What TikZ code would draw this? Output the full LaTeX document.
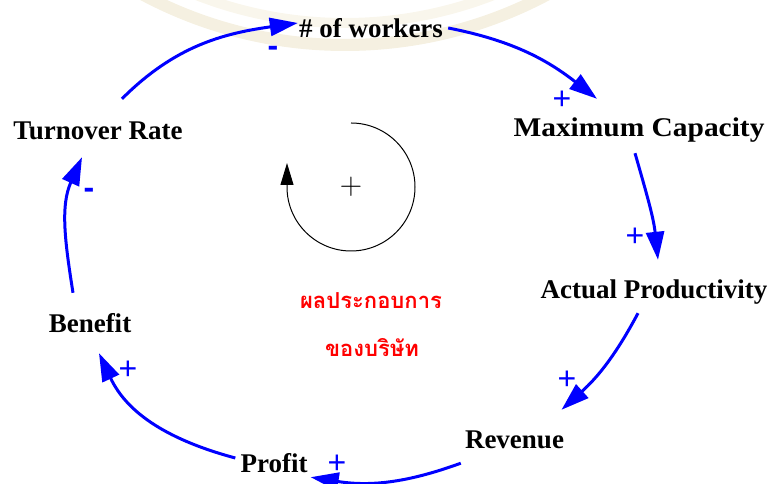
\documentclass[tikz,border=0pt]{standalone}
\usepackage{fontspec}
\setmainfont{Liberation Serif}
\newfontfamily\signfont{Liberation Sans}
\newfontfamily\loopfont{Latin Modern Roman}
\newfontfamily\thaifont[Script=Thai]{Loma}
\usetikzlibrary{arrows.meta, positioning, calc}
\definecolor{logoA}{RGB}{245,240,225}
\definecolor{logoB}{RGB}{249,246,236}

\begin{document}
\begin{tikzpicture}[x=1pt, y=1pt,
    var/.style={font=\fontsize{27}{30}\selectfont\bfseries, inner sep=0pt,
      text height=18pt, text depth=6pt, anchor=base},
    link/.style={draw=blue, line width=3pt, -{Triangle[length=28pt, width=18pt]}},
    sign/.style={text=blue, font=\signfont\fontsize{32}{32}\selectfont, inner sep=0pt, anchor=base},
    perf/.style={text=red, font=\thaifont\bfseries\fontsize{22}{26}\selectfont, inner sep=0pt, anchor=base},
    loopline/.style={draw=black, line width=1pt, -{Triangle[length=22pt, width=13pt]}}]

    \useasboundingbox (0,0) rectangle (769,484);

    % faded logo at the top
    \begin{scope}
      \clip (0,0) rectangle (769,484);
      \draw[line width=12pt, logoA] (345,869) circle[radius=430];
      \draw[line width=10pt, logoB] (345,869) circle[radius=408];
    \end{scope}

    \node[var] (turn) at (98,344) {Turnover Rate};
    \node[var] (workers) at (371,446) {\# of workers};
    \node[var, xscale=1.09, transform shape] (maxcap) at (639,347) {Maximum Capacity};
    \node[var] (actual) at (654,185) {Actual Productivity};
    \node[var] (revenue) at (514.5,35) {Revenue};
    \node[var] (profit) at (274,11) {Profit};
    \node[var] (benefit) at (90,151) {Benefit};

    \draw[link] ([xshift=24pt, yshift=23pt]turn.north) to[out=45, in=188] ([xshift=-1pt, yshift=9pt]workers.west);
    \draw[link] ([xshift=5pt, yshift=4pt]workers.east) to[out=-11, in=142] ([xshift=-42pt, yshift=20pt]maxcap.north);
    \draw[link] ([xshift=-4pt, yshift=-10pt]maxcap.south) to[out=-74, in=96] ([xshift=4pt, yshift=21pt]actual.north);
    \draw[link] ([xshift=-16pt, yshift=-8pt]actual.south) to[out=-118, in=42] ([xshift=47pt, yshift=21pt]revenue.north);
    \draw[link] ([xshift=-4pt, yshift=-8pt]revenue.south west) to[out=200, in=-9] ([xshift=3pt, yshift=2pt]profit.south east);
    \draw[link] ([xshift=-5pt, yshift=9pt]profit.west) to[out=165, in=-65] ([xshift=9pt, yshift=-14pt]benefit.south);
    \draw[link] ([xshift=-17pt, yshift=22pt]benefit.north) to[out=99, in=246] ([xshift=-16pt, yshift=-11pt]turn.south);

    \node[sign, font=\signfont\bfseries\fontsize{32}{32}\selectfont] (s-turn) at (273,427) {-};
    \node[sign] (s-workers) at (562,374) {+};
    \node[sign] (s-maxcap) at (635,237) {+};
    \node[sign] (s-actual) at (567,94) {+};
    \node[sign] (s-revenue) at (337,10) {+};
    \node[sign] (s-profit) at (128,104) {+};
    \node[sign, font=\signfont\bfseries\fontsize{32}{32}\selectfont] (s-benefit) at (89,285) {-};

    % reinforcing loop
    \coordinate (loopc) at (351,297);
    \draw[loopline] ($(loopc)+(0,64)$) arc[start angle=90, end angle=-180, radius=64] -- ++(0,24);
    \node[inner sep=0pt, anchor=base, font=\loopfont\fontsize{31}{31}\selectfont] (looptype) at (351,289) {+};

    \node[perf] (perf1) at (371,175) {ผลประกอบการ};
    \node[perf] (perf2) at (372,127) {ของบริษัท};
\end{tikzpicture}
\end{document}
